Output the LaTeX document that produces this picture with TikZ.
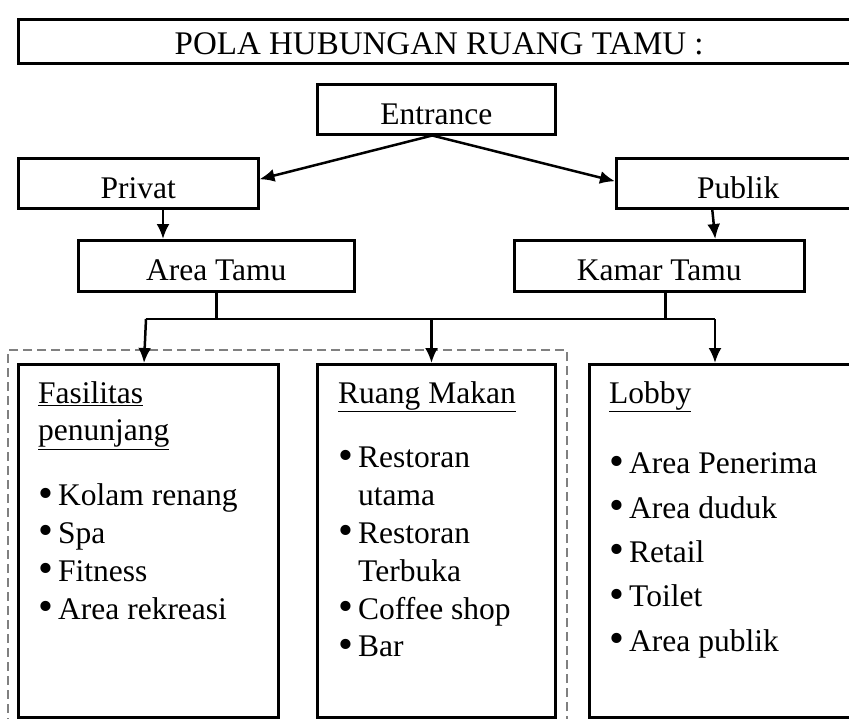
\documentclass[tikz,border=0pt]{standalone}
\usepackage{fontspec}
\setmainfont{Liberation Serif}
\usetikzlibrary{arrows.meta, positioning}
\newcommand{\poin}{\makebox[20pt][l]{\smash{\raisebox{-1.5pt}{\scalebox{1.35}{\textbullet}}}}}

\begin{document}
\begin{tikzpicture}[x=1pt, y=-1pt,
  kotak/.style={draw, line width=2.5pt, rectangle, inner sep=0pt, anchor=north west,
    text height=30pt, text depth=0pt, font=\fontsize{31.5}{37.8}\selectfont},
  isi/.style={anchor=base west, inner sep=0pt, font=\fontsize{31.5}{37.8}\selectfont},
  batas/.style={draw=gray, line width=2.2pt, dash pattern=on 9pt off 5pt, rectangle,
    inner sep=0pt, anchor=north west},
  garis/.style={line width=2.5pt},
  panah/.style={line width=2.5pt, -{Latex[length=15pt,width=13pt]}}]
\useasboundingbox (0,0) rectangle (849,718);
\clip (0,0) rectangle (849,718);
% judul
\node[kotak, minimum width=842pt, minimum height=44pt, text height=26pt,
  font=\fontsize{33}{40}\selectfont] (judul) at (17,18) {POLA HUBUNGAN RUANG TAMU :};
% baris atas
\node[kotak, minimum width=238pt, minimum height=50pt] (entr) at (316,83) {Entrance};
\node[kotak, minimum width=240pt, minimum height=50pt] (priv) at (17,157) {Privat};
\node[kotak, minimum width=244pt, minimum height=50pt] (publ) at (615,157) {Publik};
\node[kotak, minimum width=276pt, minimum height=51pt] (area) at (77,239) {Area Tamu};
\node[kotak, minimum width=290pt, minimum height=51pt] (kamar) at (513,239) {Kamar Tamu};
% zona privat
\node[batas, minimum width=559pt, minimum height=390pt] (zona) at (7,349) {};
% kotak bawah
\node[kotak, minimum width=260pt, minimum height=353pt] (fas) at (17,363) {};
\node[kotak, minimum width=238pt, minimum height=353pt] (makan) at (316,363) {};
\node[kotak, minimum width=292pt, minimum height=353pt] (lobby) at (588,363) {};
\node[isi] (fastxt) at (38,403) {\begin{tabular}[t]{@{}l@{}}
  \underline{Fasilitas}\\ \underline{penunjang}\\[27pt]
  \poin Kolam renang\\ \poin Spa\\ \poin Fitness\\ \poin Area rekreasi
  \end{tabular}};
\node[isi] (makantxt) at (338,403) {\begin{tabular}[t]{@{}l@{}}
  \underline{Ruang Makan}\\[27pt]
  \poin Restoran\\ \hspace*{20pt}utama\\ \poin Restoran\\ \hspace*{20pt}Terbuka\\
  \poin Coffee shop\\ \poin Bar
  \end{tabular}};
\node[isi] (lobbytxt) at (609,403) {\begin{tabular}[t]{@{}l@{}}
  \underline{Lobby}\\[33pt]
  \poin Area Penerima\\[6.5pt] \poin Area duduk\\[6.5pt] \poin Retail\\[6.5pt]
  \poin Toilet\\[6.5pt] \poin Area publik
  \end{tabular}};
% hubungan
\coordinate (jL) at (146,319);
\coordinate (jM) at (431.5,319);
\coordinate (jR) at (715,319);
\coordinate (pv) at (163,0);
\coordinate (kb) at ([xshift=6pt]kamar.south);
\draw[panah] ([xshift=-4pt]entr.south) -- ([yshift=4pt]priv.east);
\draw[panah] ([xshift=-4pt]entr.south) -- ([yshift=2pt]publ.west);
\draw[panah] (priv.south -| pv) -- (area.north -| pv);
\draw[panah] ([xshift=-26pt]publ.south) -- ([xshift=56pt]kamar.north);
\draw[garis] (area.south) -- (area.south |- jL);
\draw[garis] (kb) -- (kb |- jL);
\draw[garis] (jL) -- (jR);
\draw[panah] (jL) -- ([xshift=-2pt]jL |- fas.north);
\draw[panah] (jM) -- (jM |- makan.north);
\draw[panah] (jR) -- (jR |- lobby.north);
\end{tikzpicture}
\end{document}
